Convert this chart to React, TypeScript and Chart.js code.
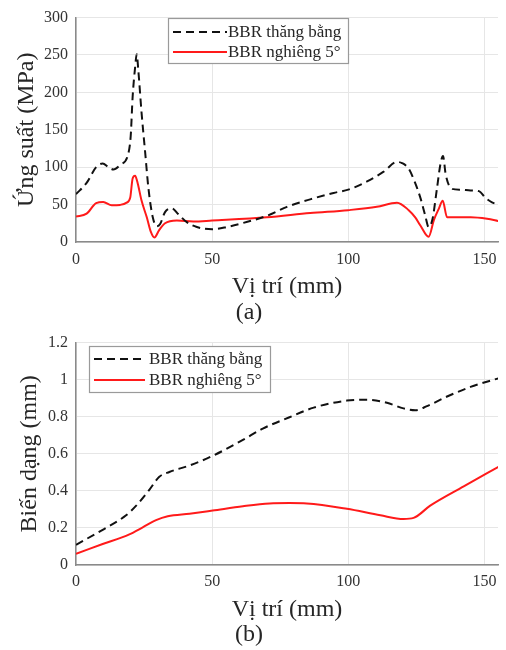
import React, { useEffect, useRef } from "react";
import { Chart, registerables } from "chart.js";

Chart.register(...registerables);

// ---------- Data: (a) stress ----------
const stressFlatX = [0, 3.9, 7.4, 9.8, 11.9, 13.7, 16.2, 19.2, 20.1, 20.8, 21.7, 22.3, 22.9, 24.1, 25.4, 26.6, 28.2, 29.7, 30.9, 32.7, 35.2, 37.6, 40.7, 44.4, 50, 55.4, 61.5, 70.1, 77.5, 86, 94.6, 100, 106.9, 113, 117.9, 119.7, 122.2, 124.6, 126.5, 128.3, 129.5, 130.9, 132.6, 133.8, 134.8, 135.8, 138.1, 141.2, 144.9, 148, 150.4, 152.8, 155.3];
const stressFlatY = [64, 79, 100, 105, 100, 97, 103, 118, 142, 194, 233, 251, 229, 172, 120, 72, 33, 21, 24, 40, 45, 37, 26.5, 20, 17, 20, 25.6, 35, 47, 57, 65.6, 70, 81, 94, 107, 105.6, 98, 78.7, 59, 35, 20, 30, 72, 103, 115, 90, 71, 70, 69, 68, 59, 53, 50];
const stressTiltX = [0, 3.9, 7.4, 10, 13.1, 16.2, 18.6, 19.9, 20.8, 21.7, 22.5, 24.1, 26, 27.5, 28.8, 30.5, 32.7, 37, 43.1, 50, 70.1, 86, 100, 110.5, 117.9, 122.2, 124.6, 126.5, 129.5, 131.5, 133.2, 134.7, 136.3, 140, 145, 151, 155.3];
const stressTiltY = [34, 38, 52, 53.5, 49, 49.6, 52.6, 59, 85, 88.7, 81, 55, 33, 13.5, 6, 15.6, 25, 28.7, 27.4, 28.7, 33, 38.7, 42.6, 47, 52.6, 42.6, 33, 22, 7, 30, 44, 55, 33, 33, 33, 31, 28];

// ---------- Data: (b) deformation ----------
const deformFlatX = [0, 9.8, 18.4, 22.1, 27, 30.6, 34.3, 41.7, 50.2, 61.3, 68.6, 78.4, 87.3, 99.5, 106.9, 114.2, 120.3, 124.6, 128.9, 136.3, 144.9, 155.3];
const deformFlatY = [0.109, 0.19, 0.268, 0.32, 0.407, 0.476, 0.502, 0.537, 0.589, 0.675, 0.736, 0.797, 0.849, 0.887, 0.892, 0.875, 0.845, 0.835, 0.857, 0.909, 0.961, 1.008];
const deformTiltX = [0, 9.8, 19.6, 24.5, 29.4, 33.7, 41.7, 50.2, 61.3, 71.1, 78.4, 84.8, 99.5, 111.8, 120.3, 124, 130.1, 142.4, 155.3];
const deformTiltY = [0.061, 0.113, 0.165, 0.203, 0.242, 0.263, 0.277, 0.294, 0.317, 0.332, 0.334, 0.332, 0.303, 0.268, 0.248, 0.254, 0.32, 0.424, 0.531];

// ---------- Labels & ticks ----------
const seriesLabels = ["BBR thăng bằng", "BBR nghiêng 5°"];
const xTicks = [0, 50, 100, 150];
const stressTicks = [0, 50, 100, 150, 200, 250, 300];
const deformTicks = [0, 0.2, 0.4, 0.6, 0.8, 1, 1.2];
const xTitle = "Vị trí (mm)";
const stressTitle = "Ứng suất (MPa)";
const deformTitle = "Biến dạng (mm)";

const FONT = "'Liberation Serif', 'Times New Roman', serif";

const zip = (xs: number[], ys: number[]) => xs.map((x, i) => ({ x, y: ys[i] }));

const boxLegend = {
  id: "boxLegend",
  afterDraw(chart: any, _args: any, opts: any) {
    const { ctx } = chart;
    ctx.save();
    ctx.fillStyle = "#ffffff";
    ctx.fillRect(opts.left, opts.top, opts.width, opts.height);
    ctx.strokeStyle = "#9a9a9a";
    ctx.lineWidth = 1.2;
    ctx.strokeRect(opts.left + 0.5, opts.top + 0.5, opts.width, opts.height);
    chart.data.datasets.forEach((ds: any, i: number) => {
      const y = opts.rowY[i];
      ctx.beginPath();
      ctx.strokeStyle = ds.borderColor;
      ctx.lineWidth = ds.borderWidth;
      ctx.setLineDash(ds.borderDash || []);
      ctx.moveTo(opts.sampleStart, y);
      ctx.lineTo(opts.sampleEnd, y);
      ctx.stroke();
      ctx.setLineDash([]);
      ctx.fillStyle = "#262626";
      ctx.font = `${opts.fontSize}px ${FONT}`;
      ctx.textBaseline = "middle";
      ctx.textAlign = "left";
      ctx.fillText(ds.label, opts.textX, y + 1);
    });
    ctx.restore();
  },
};

type PanelProps = {
  datasets: any[];
  yTicks: number[];
  yMax: number;
  yTitle: string;
  caption: string;
  padTop: number;
  padBottom: number;
  xAxisHeight: number;
  xTickPad: number;
  xTitlePad: number;
  yTitlePad: number;
  legend: any;
};

function Panel(p: PanelProps) {
  const ref = useRef<HTMLCanvasElement | null>(null);
  useEffect(() => {
    if (!ref.current) return;
    const chart = new Chart(ref.current, {
      type: "line",
      data: { datasets: p.datasets },
      plugins: [boxLegend],
      options: {
        animation: false,
        responsive: false,
        layout: { padding: { top: p.padTop, bottom: p.padBottom, left: 0, right: 8 } },
        elements: { point: { radius: 0 }, line: { cubicInterpolationMode: "monotone" } },
        plugins: {
          legend: { display: false },
          tooltip: { enabled: false },
          title: {
            display: true,
            position: "bottom",
            text: p.caption,
            color: "#262626",
            font: { family: FONT, size: 24, weight: "normal", lineHeight: 1.0 },
            padding: 0,
          },
          boxLegend: p.legend,
        } as any,
        scales: {
          x: {
            type: "linear",
            min: 0,
            max: 155,
            afterBuildTicks: (s: any) => {
              s.ticks = xTicks.map((v) => ({ value: v }));
            },
            afterFit: (s: any) => {
              s.height = p.xAxisHeight;
            },
            ticks: {
              padding: p.xTickPad,
              color: "#333333",
              font: { family: FONT, size: 16 },
            },
            grid: { color: "#e6e6e6", lineWidth: 1, drawTicks: false },
            border: { color: "#8a8a8a", width: 1.5 },
            title: {
              display: true,
              text: xTitle,
              color: "#262626",
              font: { family: FONT, size: 24, lineHeight: 1.0 },
              padding: { top: 0, bottom: p.xTitlePad },
            },
          },
          y: {
            type: "linear",
            min: 0,
            max: p.yMax,
            afterBuildTicks: (s: any) => {
              s.ticks = p.yTicks.map((v) => ({ value: v }));
            },
            afterFit: (s: any) => {
              s.width = 76;
            },
            ticks: {
              padding: 8,
              color: "#333333",
              font: { family: FONT, size: 16 },
              callback: (v: any) => String(Math.round(Number(v) * 10) / 10),
            },
            grid: { color: "#e6e6e6", lineWidth: 1, drawTicks: false },
            border: { color: "#8a8a8a", width: 1.5 },
            title: {
              display: true,
              text: p.yTitle,
              color: "#262626",
              font: { family: FONT, size: 24, lineHeight: 1.0 },
              padding: { top: p.yTitlePad, bottom: 0 },
            },
          },
        },
      } as any,
    });
    return () => chart.destroy();
  }, []);
  return <canvas ref={ref} width={506} height={325} style={{ display: "block", width: 506, height: 325 }} />;
}

const flatStyle = { borderColor: "#111111", borderWidth: 2, borderDash: [8, 5], fill: false };
const tiltStyle = { borderColor: "#ff1a1a", borderWidth: 2, fill: false };

export default function App() {
  const stressSets = [
    { label: seriesLabels[0], data: zip(stressFlatX, stressFlatY), ...flatStyle },
    { label: seriesLabels[1], data: zip(stressTiltX, stressTiltY), ...tiltStyle },
  ];
  const deformSets = [
    { label: seriesLabels[0], data: zip(deformFlatX, deformFlatY), ...flatStyle },
    { label: seriesLabels[1], data: zip(deformTiltX, deformTiltY), ...tiltStyle },
  ];
  return (
    <div style={{ position: "absolute", left: 0, top: 0, width: 506, height: 650, background: "#fff" }}>
      <Panel
        datasets={stressSets}
        yTicks={stressTicks}
        yMax={300}
        yTitle={stressTitle}
        caption="(a)"
        padTop={12}
        padBottom={0}
        xAxisHeight={59}
        xTickPad={8}
        xTitlePad={2}
        yTitlePad={15}
        legend={{ left: 168, top: 18, width: 180, height: 45, rowY: [32, 52], sampleStart: 173, sampleEnd: 227, textX: 228, fontSize: 17 }}
      />
      <Panel
        datasets={deformSets}
        yTicks={deformTicks}
        yMax={1.2}
        yTitle={deformTitle}
        caption="(b)"
        padTop={9}
        padBottom={3}
        xAxisHeight={58}
        xTickPad={7}
        xTitlePad={1}
        yTitlePad={18}
        legend={{ left: 89, top: 21, width: 181, height: 46, rowY: [34, 55], sampleStart: 94, sampleEnd: 145, textX: 149, fontSize: 17 }}
      />
    </div>
  );
}
